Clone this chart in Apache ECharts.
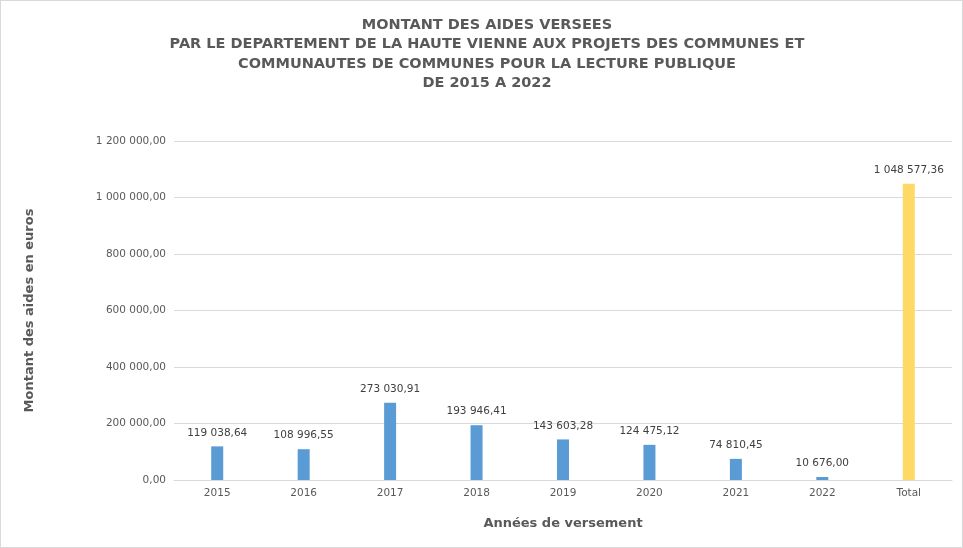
<!DOCTYPE html><html><head><meta charset="utf-8"><script src="https://cdn.jsdelivr.net/npm/echarts@6/dist/echarts.min.js"></script>
<style>body{margin:0}#c{width:963px;height:548px;border:1px solid #d9d9d9;box-sizing:border-box}</style></head><body><div id="c"></div><script>
const categories=['2015','2016','2017','2018','2019','2020','2021','2022','Total'];
const values=[119038.64,108996.55,273030.91,193946.41,143603.28,124475.12,74810.45,10676.00,1048577.36];
const yTicks=[0,200000,400000,600000,800000,1000000,1200000];
function fmt(v,d){let s=v.toFixed(d);let [i,f]=s.split('.');i=i.replace(/\B(?=(\d{3})+(?!\d))/g,' ');return f?i+','+f:i;}
const ch=echarts.init(document.getElementById('c'));
ch.setOption({
title:{text:'MONTANT DES AIDES VERSEES\nPAR LE DEPARTEMENT DE LA HAUTE VIENNE AUX PROJETS DES COMMUNES ET\nCOMMUNAUTES DE COMMUNES POUR LA LECTURE PUBLIQUE\nDE 2015 A 2022',left:481,textAlign:'center',top:9,textStyle:{fontFamily:'DejaVu Sans',fontSize:14.5,fontWeight:'bold',color:'#595959',lineHeight:19.5}},
grid:{left:173,right:10,top:140,bottom:67},
xAxis:{type:'category',data:categories,name:'Années de versement',nameLocation:'middle',nameGap:37,nameTextStyle:{fontFamily:'DejaVu Sans',fontSize:13,fontWeight:'bold',color:'#595959'},axisTick:{show:false},axisLine:{lineStyle:{color:'#d9d9d9'}},axisLabel:{color:'#595959',fontSize:10.5,fontFamily:'DejaVu Sans'}},
yAxis:{type:'value',min:0,max:1200000,interval:200000,name:'Montant des aides en euros',nameLocation:'middle',nameGap:138,nameTextStyle:{fontFamily:'DejaVu Sans',fontSize:13,fontWeight:'bold',color:'#595959'},axisLabel:{formatter:v=>fmt(v,2),color:'#595959',fontSize:10.5,fontFamily:'DejaVu Sans'},splitLine:{lineStyle:{color:'#d9d9d9'}}},
series:[{type:'bar',barWidth:12,data:values.map((v,i)=>({value:v,itemStyle:{color:i===8?'#ffd966':'#5b9bd5'}})),label:{show:true,position:'top',distance:8,formatter:p=>fmt(p.value,2),color:'#404040',fontSize:10.5,fontFamily:'DejaVu Sans'}}]
});
</script></body></html>
